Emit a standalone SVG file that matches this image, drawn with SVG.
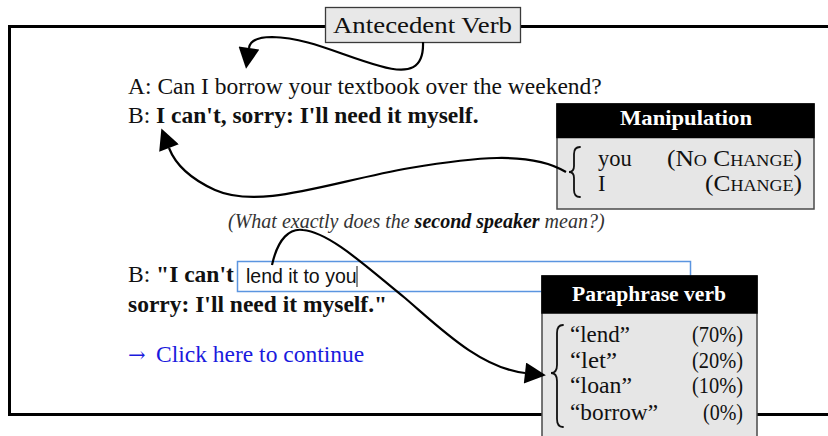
<svg xmlns="http://www.w3.org/2000/svg" width="828" height="436" viewBox="0 0 828 436">
  <defs>
    <marker id="head" viewBox="0 0 10 10" refX="0" refY="5" markerUnits="userSpaceOnUse" markerWidth="22" markerHeight="21" orient="auto">
      <path d="M0,0 L10,5 L0,10 z" fill="#000"/>
    </marker>
    <style>
      .serif { font-family: "Liberation Serif", "Times New Roman", serif; }
      .sans { font-family: "Liberation Sans", Arial, sans-serif; }
      .dialog { font-size: 23.5px; fill: #111; }
      .b { font-weight: bold; }
      .card { fill: #e6e6e6; stroke: #4a4a4a; stroke-width: 1.5; }
      .bar { fill: #000; }
      .head { font-size: 22px; font-weight: bold; fill: #fff; }
      .item { font-size: 22.5px; fill: #111; }
      .sc { font-variant: small-caps; }
      .brace { fill: none; stroke: #111; stroke-width: 1.8; stroke-linecap: round; }
      .link { fill: none; stroke: #000; stroke-width: 2.2; marker-end: url(#head); }
    </style>
  </defs>

  <rect width="828" height="436" fill="#fff"/>

  <!-- outer panel, open to the right -->
  <g id="panel">
    <rect x="9.5" y="26.5" width="830" height="388" fill="none" stroke="#000" stroke-width="3"/>
  </g>

  <!-- dialogue text -->
  <g id="dialogue" class="serif dialog">
    <text x="128" y="94">A: Can I borrow your textbook over the weekend?</text>
    <text x="128" y="123">B: <tspan class="b">I can't, sorry: I'll need it myself.</tspan></text>
    <text x="228" y="228" font-size="20" font-style="italic" fill="#333">(What exactly does the <tspan class="b" fill="#111">second speaker</tspan> mean?)</text>
    <text x="128" y="282">B: <tspan class="b">"I can't</tspan></text>
    <text x="128" y="312" class="b">sorry: I'll need it myself."</text>
    <text x="128" y="362" fill="#1a1add"><tspan font-family="DejaVu Serif, serif" font-size="21">→</tspan> <tspan x="156">Click here to continue</tspan></text>
  </g>

  <!-- text input field -->
  <g id="answer-input">
    <rect x="237.5" y="261.5" width="453" height="30" fill="#fff" stroke="#5b95e0" stroke-width="1.5"/>
    <text x="246" y="283" class="sans" font-size="19.5" fill="#111">lend it to you</text>
    <line x1="357" y1="266" x2="357" y2="287" stroke="#111" stroke-width="1"/>
  </g>

  <!-- antecedent verb label -->
  <g id="antecedent-verb">
    <rect x="325.5" y="7.5" width="195" height="35" fill="#e8e8e8" stroke="#3a3a3a" stroke-width="1.3"/>
    <text x="333" y="33" class="serif" font-size="23" fill="#111" textLength="179" lengthAdjust="spacingAndGlyphs">Antecedent Verb</text>
  </g>

  <!-- manipulation card -->
  <g id="manipulation">
    <rect class="card" x="557" y="104" width="257" height="105"/>
    <rect class="bar" x="556.25" y="103.25" width="258.5" height="35"/>
    <text class="serif head" x="620" y="125" textLength="132" lengthAdjust="spacingAndGlyphs">Manipulation</text>
    <path class="brace" d="M580,147 Q574,147 574,154 L574,166 Q574,172 569,172 Q574,172 574,178 L574,190 Q574,197 580,197"/>
    <text class="serif item" x="598" y="166">you</text>
    <text class="serif item sc" x="667" y="166" textLength="135" lengthAdjust="spacingAndGlyphs">(No Change)</text>
    <text class="serif item" x="598" y="191">I</text>
    <text class="serif item sc" x="705" y="191" textLength="97" lengthAdjust="spacingAndGlyphs">(Change)</text>
  </g>

  <!-- paraphrase verb card -->
  <g id="paraphrase-verb">
    <rect class="card" x="542" y="276" width="215" height="170"/>
    <rect class="bar" x="541.25" y="275.25" width="216.5" height="38.5"/>
    <text class="serif head" x="572" y="301" textLength="154" lengthAdjust="spacingAndGlyphs">Paraphrase verb</text>
    <path class="brace" d="M563,325 Q557,325 557,333 L557,365 Q557,373 551,373 Q557,373 557,381 L557,419 Q557,427 563,427"/>
    <text class="serif item" x="570" y="342" textLength="60" lengthAdjust="spacingAndGlyphs">“lend”</text>
    <text class="serif item" x="570" y="368" textLength="47" lengthAdjust="spacingAndGlyphs">“let”</text>
    <text class="serif item" x="570" y="393" textLength="62" lengthAdjust="spacingAndGlyphs">“loan”</text>
    <text class="serif item" x="570" y="420" textLength="88" lengthAdjust="spacingAndGlyphs">“borrow”</text>
    <text class="serif item" x="692" y="342" textLength="51" lengthAdjust="spacingAndGlyphs">(70%)</text>
    <text class="serif item" x="692" y="368" textLength="51" lengthAdjust="spacingAndGlyphs">(20%)</text>
    <text class="serif item" x="692" y="393" textLength="51" lengthAdjust="spacingAndGlyphs">(10%)</text>
    <text class="serif item" x="703" y="420" textLength="40" lengthAdjust="spacingAndGlyphs">(0%)</text>
  </g>

  <!-- connectors -->
  <g id="connectors">
    <path class="link" d="M423,42 C424,68 410,75 380,66 C340,55 310,38 272,37 C256,37 250,41 249,48"/>
    <path class="link" d="M566,172 C530,150 470,158 410,168 C330,182 260,210 215,190 C193,180 176,166 169,148"/>
    <path class="link" d="M272,265 C278,238 290,228 303,230 C330,232 370,270 405,298 C440,328 480,368 525,373"/>
  </g>
</svg>
